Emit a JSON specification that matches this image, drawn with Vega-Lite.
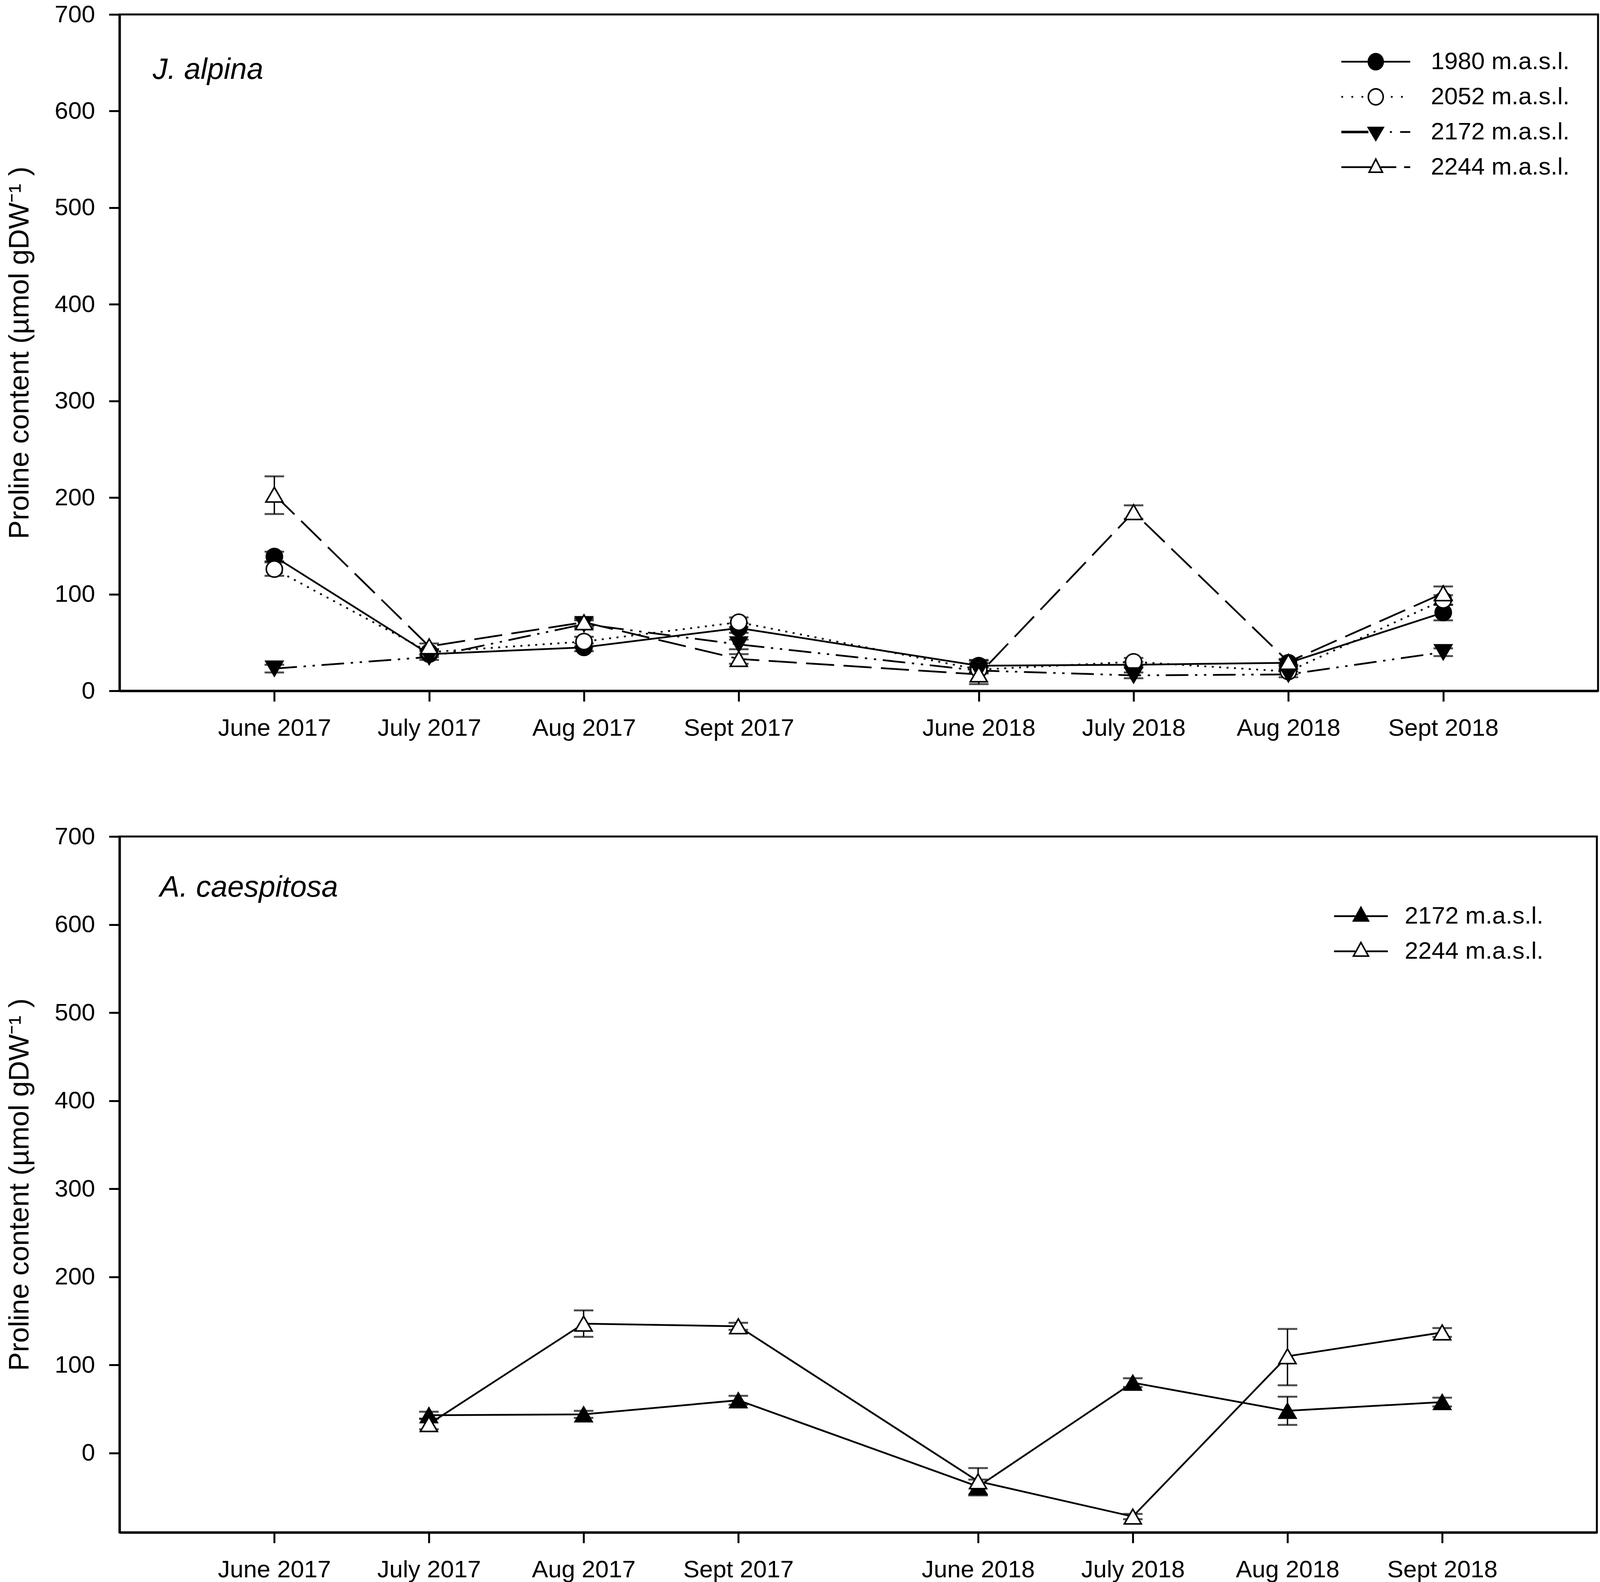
{
  "$schema": "https://vega.github.io/schema/vega-lite/v6.json",
  "padding": {"left": 12, "top": 3, "right": 8, "bottom": 0},
  "spacing": 210,
  "background": "white",
  "config": {
    "font": "Liberation Sans",
    "view": {"stroke": "black", "strokeWidth": 5},
    "axis": {
      "labelFont": "Liberation Sans", "labelFontSize": 62, "labelColor": "black", "labelFlush": false, "labelLimit": 1000,
      "labelOverlap": false,
      "titleFont": "Liberation Sans", "titleFontSize": 72, "titleFontWeight": "normal", "titleColor": "black",
      "domainColor": "black", "domainWidth": 6, "tickColor": "black", "tickWidth": 5, "tickSize": 27, "grid": false
    },
    "axisX": {"labelPadding": 38},
    "axisY": {"labelPadding": 36, "titlePadding": 52},
    "title": {"font": "Liberation Sans", "fontSize": 76, "fontStyle": "italic", "fontWeight": "normal", "color": "black"},
    "legend": {
      "title": null, "orient": "none", "padding": 0,
      "labelFont": "Liberation Sans", "labelFontSize": 62, "labelColor": "black", "labelLimit": 1000,
      "rowPadding": 28, "symbolSize": 1764, "symbolStrokeWidth": 0, "symbolFillColor": "black", "symbolOpacity": 1
    }
  },
  "datasets": {
    "jalpina": [
      {"series": "1980 m.a.s.l.", "pos": 1, "mean": 139, "lo": 134, "hi": 144},
      {"series": "1980 m.a.s.l.", "pos": 2, "mean": 38, "lo": 35, "hi": 41},
      {"series": "1980 m.a.s.l.", "pos": 3, "mean": 45, "lo": 41, "hi": 49},
      {"series": "1980 m.a.s.l.", "pos": 4, "mean": 65, "lo": 60, "hi": 70},
      {"series": "1980 m.a.s.l.", "pos": 5.55, "mean": 26, "lo": 20, "hi": 32},
      {"series": "1980 m.a.s.l.", "pos": 6.55, "mean": 27, "lo": 24, "hi": 30},
      {"series": "1980 m.a.s.l.", "pos": 7.55, "mean": 29, "lo": 26, "hi": 32},
      {"series": "1980 m.a.s.l.", "pos": 8.55, "mean": 81, "lo": 73, "hi": 89},
      {"series": "2052 m.a.s.l.", "pos": 1, "mean": 126, "lo": 119, "hi": 133},
      {"series": "2052 m.a.s.l.", "pos": 2, "mean": 40, "lo": 37, "hi": 43},
      {"series": "2052 m.a.s.l.", "pos": 3, "mean": 51, "lo": 46, "hi": 56},
      {"series": "2052 m.a.s.l.", "pos": 4, "mean": 71, "lo": 66, "hi": 76},
      {"series": "2052 m.a.s.l.", "pos": 5.55, "mean": 22, "lo": 19, "hi": 25},
      {"series": "2052 m.a.s.l.", "pos": 6.55, "mean": 30, "lo": 26, "hi": 34},
      {"series": "2052 m.a.s.l.", "pos": 7.55, "mean": 20, "lo": 17, "hi": 23},
      {"series": "2052 m.a.s.l.", "pos": 8.55, "mean": 94, "lo": 89, "hi": 99},
      {"series": "2172 m.a.s.l.", "pos": 1, "mean": 23, "lo": 19, "hi": 27},
      {"series": "2172 m.a.s.l.", "pos": 2, "mean": 35, "lo": 32, "hi": 38},
      {"series": "2172 m.a.s.l.", "pos": 3, "mean": 69, "lo": 65, "hi": 73},
      {"series": "2172 m.a.s.l.", "pos": 4, "mean": 48, "lo": 43, "hi": 53},
      {"series": "2172 m.a.s.l.", "pos": 5.55, "mean": 21, "lo": 18, "hi": 24},
      {"series": "2172 m.a.s.l.", "pos": 6.55, "mean": 16, "lo": 13, "hi": 19},
      {"series": "2172 m.a.s.l.", "pos": 7.55, "mean": 17, "lo": 14, "hi": 20},
      {"series": "2172 m.a.s.l.", "pos": 8.55, "mean": 40, "lo": 36, "hi": 44},
      {"series": "2244 m.a.s.l.", "pos": 1, "mean": 203, "lo": 183, "hi": 222},
      {"series": "2244 m.a.s.l.", "pos": 2, "mean": 46, "lo": 43, "hi": 49},
      {"series": "2244 m.a.s.l.", "pos": 3, "mean": 71, "lo": 67, "hi": 75},
      {"series": "2244 m.a.s.l.", "pos": 4, "mean": 33, "lo": 28, "hi": 38},
      {"series": "2244 m.a.s.l.", "pos": 5.55, "mean": 17, "lo": 7, "hi": 31},
      {"series": "2244 m.a.s.l.", "pos": 6.55, "mean": 185, "lo": 178, "hi": 192},
      {"series": "2244 m.a.s.l.", "pos": 7.55, "mean": 30, "lo": 27, "hi": 33},
      {"series": "2244 m.a.s.l.", "pos": 8.55, "mean": 101, "lo": 94, "hi": 108}
    ],
    "acaespitosa": [
      {"series": "2172 m.a.s.l.", "pos": 2, "mean": 43, "lo": 39, "hi": 47},
      {"series": "2172 m.a.s.l.", "pos": 3, "mean": 44, "lo": 40, "hi": 48},
      {"series": "2172 m.a.s.l.", "pos": 4, "mean": 60, "lo": 55, "hi": 65},
      {"series": "2172 m.a.s.l.", "pos": 5.55, "mean": -38, "lo": -48, "hi": -30},
      {"series": "2172 m.a.s.l.", "pos": 6.55, "mean": 80, "lo": 75, "hi": 85},
      {"series": "2172 m.a.s.l.", "pos": 7.55, "mean": 48, "lo": 32, "hi": 64},
      {"series": "2172 m.a.s.l.", "pos": 8.55, "mean": 58, "lo": 53, "hi": 63},
      {"series": "2244 m.a.s.l.", "pos": 2, "mean": 33, "lo": 27, "hi": 39},
      {"series": "2244 m.a.s.l.", "pos": 3, "mean": 147, "lo": 132, "hi": 162},
      {"series": "2244 m.a.s.l.", "pos": 4, "mean": 144, "lo": 140, "hi": 148},
      {"series": "2244 m.a.s.l.", "pos": 5.55, "mean": -32, "lo": -47, "hi": -17},
      {"series": "2244 m.a.s.l.", "pos": 6.55, "mean": -72, "lo": -75, "hi": -69},
      {"series": "2244 m.a.s.l.", "pos": 7.55, "mean": 110, "lo": 77, "hi": 141},
      {"series": "2244 m.a.s.l.", "pos": 8.55, "mean": 137, "lo": 132, "hi": 142}
    ]
  },
  "resolve": {
    "scale": {"shape": "independent"},
    "legend": {"shape": "independent"}
  },
  "vconcat": [
    {
      "width": 3785,
      "height": 1732,
      "title": {"text": "J. alpina", "anchor": "start", "frame": "group", "orient": "top", "offset": 0, "baseline": "alphabetic", "dx": 85, "dy": 272},
      "data": {"name": "jalpina"},
      "encoding": {
        "x": {
          "field": "pos", "type": "quantitative",
          "scale": {"domain": [0, 9.55], "nice": false, "zero": false},
          "axis": {
            "title": null,
            "values": [1, 2, 3, 4, 5.55, 6.55, 7.55, 8.55],
            "labelExpr": "datum.value < 1.5 ? 'June 2017' : datum.value < 2.5 ? 'July 2017' : datum.value < 3.5 ? 'Aug 2017' : datum.value < 4.5 ? 'Sept 2017' : datum.value < 6 ? 'June 2018' : datum.value < 7 ? 'July 2018' : datum.value < 8 ? 'Aug 2018' : 'Sept 2018'"
          }
        },
        "y": {"field": "mean", "type": "quantitative", "title": "Proline content (µmol gDW⁻¹ )",
              "scale": {"domain": [0, 700], "nice": false, "zero": false},
              "axis": {"values": [0, 100, 200, 300, 400, 500, 600, 700]}}
      },
      "layer": [
        {
          "transform": [{"filter": "datum.series == '1980 m.a.s.l.'"}],
          "mark": {"type": "line", "color": "black", "strokeWidth": 4.5},
          "encoding": {}
        },
        {
          "transform": [{"filter": "datum.series == '2052 m.a.s.l.'"}],
          "mark": {"type": "line", "color": "black", "strokeWidth": 4.5, "strokeDash": [5, 14]},
          "encoding": {}
        },
        {
          "transform": [{"filter": "datum.series == '2172 m.a.s.l.'"}],
          "mark": {"type": "line", "color": "black", "strokeWidth": 4.5, "strokeDash": [58, 17, 6, 17, 6, 17]},
          "encoding": {}
        },
        {
          "transform": [{"filter": "datum.series == '2244 m.a.s.l.'"}],
          "mark": {"type": "line", "color": "black", "strokeWidth": 4.5, "strokeDash": [72, 24]},
          "encoding": {}
        },
        {
          "mark": {"type": "errorbar", "color": "black", "ticks": {"size": 50, "thickness": 5}, "rule": {"strokeWidth": 3.5}},
          "encoding": {
            "y": {"field": "lo", "type": "quantitative", "title": "Proline content (µmol gDW⁻¹ )"},
            "y2": {"field": "hi"}
          }
        },
        {
          "transform": [{"filter": "datum.series == '1980 m.a.s.l.'"}],
          "mark": {"type": "point", "shape": "circle", "filled": true, "fill": "black", "stroke": "black", "strokeWidth": 4, "size": 1700, "opacity": 1},
          "encoding": {}
        },
        {
          "transform": [{"filter": "datum.series == '2052 m.a.s.l.'"}],
          "mark": {"type": "point", "shape": "circle", "filled": true, "fill": "white", "stroke": "black", "strokeWidth": 4, "size": 1700, "opacity": 1},
          "encoding": {}
        },
        {
          "transform": [{"filter": "datum.series == '2172 m.a.s.l.'"}],
          "mark": {"type": "point", "shape": "triangle-down", "filled": true, "fill": "black", "stroke": "black", "strokeWidth": 4, "size": 1900, "opacity": 1},
          "encoding": {}
        },
        {
          "transform": [{"filter": "datum.series == '2244 m.a.s.l.'"}],
          "mark": {"type": "point", "shape": "triangle-up", "filled": true, "fill": "white", "stroke": "black", "strokeWidth": 4, "size": 1900, "opacity": 1},
          "encoding": {}
        },
        {
          "transform": [{"filter": "false"}],
          "mark": {"type": "point", "filled": true, "color": "black", "strokeWidth": 0, "opacity": 1},
          "encoding": {
            "shape": {
              "field": "series", "type": "nominal",
              "scale": {"domain": ["1980 m.a.s.l.", "2052 m.a.s.l.", "2172 m.a.s.l.", "2244 m.a.s.l."],
                        "range": [
                          "M-4.2,-0.107H-0.95V0.107H-4.2ZM0.95,-0.107H4.2V0.107H0.95ZM-1,0A1,1.07,0,1,1,1,0A1,1.07,0,1,1,-1,0Z",
                          "M-4.2,-0.107h0.214v0.214h-0.214ZM-2.97,-0.107h0.214v0.214h-0.214ZM-1.74,-0.107h0.214v0.214h-0.214ZM1.84,-0.107h0.214v0.214h-0.214ZM3.08,-0.107h0.214v0.214h-0.214ZM-1,0A1,1.07,0,1,1,1,0A1,1.07,0,1,1,-1,0ZM-0.81,0A0.81,0.88,0,1,0,0.81,0A0.81,0.88,0,1,0,-0.81,0Z",
                          "M-4.2,-0.15H-0.9V0.15H-4.2ZM1.72,-0.107h0.25v0.214h-0.25ZM2.97,-0.107H4.2V0.107H2.97ZM-1.08,-0.64L1.08,-0.64L0,1.19Z",
                          "M-4.2,-0.107H-0.6V0.107H-4.2ZM0.6,-0.107H2.5V0.107H0.6ZM3.45,-0.107H4.2V0.107H3.45ZM0,-1.19L0.97,0.71L-0.97,0.71ZM0,-0.772L-0.66,0.52L0.66,0.52Z"
                        ]},
              "legend": {"legendX": 3185, "legendY": 90, "labelOffset": 110}
            }
          }
        }
      ]
    },
    {
      "width": 3782,
      "height": 1782,
      "title": {"text": "A. caespitosa", "anchor": "start", "frame": "group", "orient": "top", "offset": 0, "baseline": "alphabetic", "dx": 103, "dy": 261},
      "data": {"name": "acaespitosa"},
      "encoding": {
        "x": {
          "field": "pos", "type": "quantitative",
          "scale": {"domain": [0, 9.55], "nice": false, "zero": false},
          "axis": {
            "title": null,
            "values": [1, 2, 3, 4, 5.55, 6.55, 7.55, 8.55],
            "labelExpr": "datum.value < 1.5 ? 'June 2017' : datum.value < 2.5 ? 'July 2017' : datum.value < 3.5 ? 'Aug 2017' : datum.value < 4.5 ? 'Sept 2017' : datum.value < 6 ? 'June 2018' : datum.value < 7 ? 'July 2018' : datum.value < 8 ? 'Aug 2018' : 'Sept 2018'"
          }
        },
        "y": {"field": "mean", "type": "quantitative", "title": "Proline content (µmol gDW⁻¹ )",
              "scale": {"domain": [-90, 700], "nice": false, "zero": false},
              "axis": {"values": [0, 100, 200, 300, 400, 500, 600, 700]}}
      },
      "layer": [
        {
          "mark": {"type": "line", "color": "black", "strokeWidth": 4.5},
          "encoding": {"detail": {"field": "series", "type": "nominal"}}
        },
        {
          "mark": {"type": "errorbar", "color": "black", "ticks": {"size": 50, "thickness": 5}, "rule": {"strokeWidth": 3.5}},
          "encoding": {
            "y": {"field": "lo", "type": "quantitative", "title": "Proline content (µmol gDW⁻¹ )"},
            "y2": {"field": "hi"}
          }
        },
        {
          "transform": [{"filter": "datum.series == '2172 m.a.s.l.'"}],
          "mark": {"type": "point", "shape": "triangle-up", "filled": true, "fill": "black", "stroke": "black", "strokeWidth": 4, "size": 1900, "opacity": 1},
          "encoding": {}
        },
        {
          "transform": [{"filter": "datum.series == '2244 m.a.s.l.'"}],
          "mark": {"type": "point", "shape": "triangle-up", "filled": true, "fill": "white", "stroke": "black", "strokeWidth": 4, "size": 1900, "opacity": 1},
          "encoding": {}
        },
        {
          "transform": [{"filter": "false"}],
          "mark": {"type": "point", "filled": true, "color": "black", "strokeWidth": 0, "opacity": 1},
          "encoding": {
            "shape": {
              "field": "series", "type": "nominal",
              "scale": {"domain": ["2172 m.a.s.l.", "2244 m.a.s.l."],
                        "range": [
                          "M-3.28,-0.107H3.28V0.107H-3.28ZM0,-1.27L1.08,0.68L-1.08,0.68Z",
                          "M-3.28,-0.107H-0.7V0.107H-3.28ZM0.7,-0.107H3.28V0.107H0.7ZM0,-1.27L1.08,0.68L-1.08,0.68ZM0,-0.876L-0.756,0.489L0.756,0.489Z"
                        ]},
              "legend": {"legendX": 3147, "legendY": 173, "labelOffset": 81}
            }
          }
        }
      ]
    }
  ]
}
